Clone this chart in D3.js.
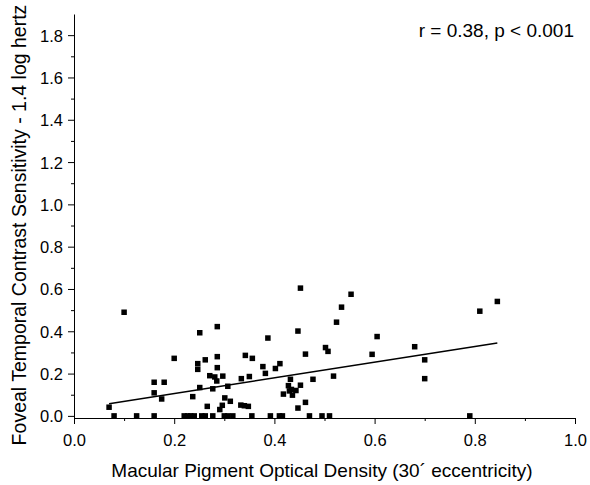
<!DOCTYPE html>
<html>
<head>
<meta charset="utf-8">
<title>MPOD vs foveal temporal contrast sensitivity</title>
<script src="https://d3js.org/d3.v7.min.js"></script>
<style>
  body { margin: 0; background: #fff; }
  svg text { font-family: Arial, "Liberation Sans", sans-serif; fill: #000; }
  .axis path, .axis line { stroke: #000; stroke-width: 1; }
</style>
</head>
<body>
<div id="chart"></div>
<script>
// macular pigment optical density (x) and sensitivity (y)
const mpod = [
  0.08, 0.125, 0.16, 0.22, 0.227, 0.233, 0.24, 0.255, 0.262, 0.277, 0.30, 0.307,
  0.317, 0.355, 0.392, 0.41, 0.416, 0.47, 0.495, 0.51, 0.79,
  0.070, 0.100, 0.160, 0.160, 0.180, 0.175, 0.200, 0.237, 0.247, 0.247, 0.251,
  0.251, 0.262, 0.266, 0.286, 0.286, 0.286, 0.271, 0.281, 0.285, 0.297, 0.277,
  0.307, 0.301, 0.296, 0.291, 0.312, 0.333, 0.340, 0.348, 0.334, 0.350, 0.342,
  0.356, 0.377, 0.382, 0.387, 0.402, 0.411, 0.432, 0.418, 0.428, 0.430, 0.436,
  0.434, 0.443, 0.452, 0.447, 0.452, 0.447, 0.462, 0.462, 0.477, 0.502, 0.507,
  0.518, 0.524, 0.534, 0.553, 0.595, 0.605, 0.680, 0.700, 0.700, 0.810, 0.845
];
const sensitivity = [
  0, 0, 0, 0, 0, 0, 0, 0, 0, 0, 0, 0,
  0, 0, 0, 0, 0, 0, 0, 0, 0,
  0.041, 0.490, 0.159, 0.109, 0.159, 0.080, 0.272, 0.091, 0.247, 0.220, 0.393,
  0.134, 0.265, 0.045, 0.422, 0.280, 0.228, 0.190, 0.184, 0.165, 0.188, 0.128,
  0.140, 0.085, 0.050, 0.030, 0.069, 0.051, 0.048, 0.045, 0.176, 0.186, 0.286,
  0.272, 0.233, 0.201, 0.368, 0.224, 0.247, 0.173, 0.103, 0.143, 0.118, 0.098,
  0.125, 0.120, 0.145, 0.401, 0.604, 0.037, 0.064, 0.292, 0.173, 0.323, 0.305,
  0.188, 0.443, 0.514, 0.575, 0.291, 0.375, 0.327, 0.265, 0.176, 0.495, 0.541
];

// linear fit
const fitIntercept = 0.032;
const fitSlope = 0.37;

const xTicks = [0, 0.2, 0.4, 0.6, 0.8, 1.0];
const yTicks = [0, 0.2, 0.4, 0.6, 0.8, 1.0, 1.2, 1.4, 1.6, 1.8];
const xMinor = [0.1, 0.3, 0.5, 0.7, 0.9];
const yMinor = [0.1, 0.3, 0.5, 0.7, 0.9, 1.1, 1.3, 1.5, 1.7];

const statText = "r = 0.38, p < 0.001";
const xTitle = "Macular Pigment Optical Density (30\u00B4 eccentricity)";
const yTitle = "Foveal Temporal Contrast Sensitivity - 1.4 log hertz";

const width = 590, height = 485;
const margin = { left: 74, right: 15, top: 14, bottom: 67 };

const svg = d3.select("#chart").append("svg")
  .attr("width", width)
  .attr("height", height);

const x = d3.scaleLinear().domain([0, 1]).range([margin.left, width - margin.right]);
const y = d3.scaleLinear().domain([-0.01, 1.9]).range([height - margin.bottom, margin.top]);

const fmt = d3.format(".1f");

// axes
const xAxis = svg.append("g")
  .attr("class", "axis")
  .attr("transform", `translate(0,${y.range()[0]})`)
  .call(d3.axisBottom(x).tickValues(xTicks).tickFormat(fmt).tickSize(6).tickSizeOuter(0));
xAxis.selectAll("text").attr("font-size", 16.5).attr("y", 28).attr("dy", null);

svg.append("g")
  .attr("class", "axis")
  .attr("transform", `translate(0,${y.range()[0]})`)
  .call(d3.axisBottom(x).tickValues(xMinor).tickFormat("").tickSize(3).tickSizeOuter(0))
  .select(".domain").remove();

const yAxis = svg.append("g")
  .attr("class", "axis")
  .attr("transform", `translate(${x(0)},0)`)
  .call(d3.axisLeft(y).tickValues(yTicks).tickFormat(fmt).tickSize(6).tickSizeOuter(0));
yAxis.selectAll("text").attr("font-size", 16.5).attr("x", -11).attr("dy", "0.36em");

svg.append("g")
  .attr("class", "axis")
  .attr("transform", `translate(${x(0)},0)`)
  .call(d3.axisLeft(y).tickValues(yMinor).tickFormat("").tickSize(3).tickSizeOuter(0))
  .select(".domain").remove();

// regression line across the data range
const xExtent = d3.extent(mpod);
svg.append("line")
  .attr("x1", x(xExtent[0]))
  .attr("y1", y(fitIntercept + fitSlope * xExtent[0]))
  .attr("x2", x(xExtent[1]))
  .attr("y2", y(fitIntercept + fitSlope * xExtent[1]))
  .attr("stroke", "#000")
  .attr("stroke-width", 1.5);

// points as black squares
const s = 5.5;
svg.append("g")
  .selectAll("rect")
  .data(d3.range(mpod.length))
  .join("rect")
  .attr("x", i => x(mpod[i]) - s / 2)
  .attr("y", i => y(sensitivity[i]) - s / 2)
  .attr("width", s)
  .attr("height", s)
  .attr("fill", "#000");

// titles
svg.append("text")
  .attr("x", 322)
  .attr("y", 477)
  .attr("text-anchor", "middle")
  .attr("font-size", 19)
  .text(xTitle);

svg.append("text")
  .attr("transform", "translate(26,225) rotate(-90)")
  .attr("text-anchor", "middle")
  .attr("font-size", 19.5)
  .text(yTitle);

svg.append("text")
  .attr("x", 574)
  .attr("y", 37)
  .attr("text-anchor", "end")
  .attr("font-size", 19)
  .text(statText);
</script>
</body>
</html>
